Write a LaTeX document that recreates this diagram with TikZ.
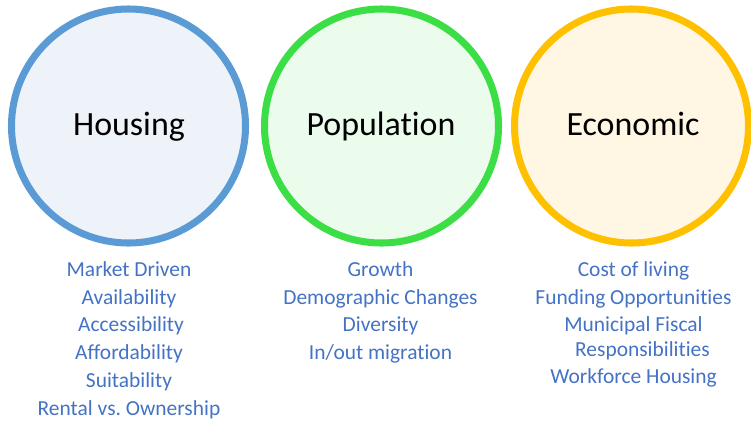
\documentclass[tikz,border=0pt]{standalone}
\usepackage{fontspec}
\setmainfont{Carlito}[Ligatures={NoCommon}]
\frenchspacing
\definecolor{housingline}{HTML}{5B9BD5}
\definecolor{housingfill}{HTML}{EEF3FA}
\definecolor{popline}{HTML}{3CDE46}
\definecolor{popfill}{HTML}{EBFBEC}
\definecolor{econline}{HTML}{FFC000}
\definecolor{econfill}{HTML}{FFF7E4}
\definecolor{itemblue}{HTML}{4472C4}
\tikzset{
  topic/.style={font=\fontsize{19.3}{23}\selectfont, anchor=base, inner sep=0pt},
  item/.style={font=\fontsize{12.2}{14}\selectfont, text=itemblue, anchor=base, inner sep=0pt},
  ring/.style={line width=4pt}
}

\begin{document}
\begin{tikzpicture}
			%%%%% FRAME %%%%%
			\useasboundingbox (0, 0) rectangle (15.02, 8.42);
			
			%%%%% CIRCLES %%%%%
			\draw[ring, draw=housingline, fill=housingfill] (2.57, 5.90) circle (2.34);
			\draw[ring, draw=popline, fill=popfill] (7.63, 5.90) circle (2.34);
			\draw[ring, draw=econline, fill=econfill] (12.63, 5.90) circle (2.34);
			
			\node[topic] (housing) at (2.58, 5.72) {Housing};
			\node[topic] (population) at (7.62, 5.72) {Population};
			\node[topic] (economic) at (12.66, 5.72) {Economic};
			
			%%%%% LISTS %%%%%
			\foreach \x/\y/\txt [count=\i] in {2.58/2.90/Market Driven, 2.58/2.34/Availability, 2.62/1.80/Accessibility, 2.58/1.24/Affordability, 2.58/0.68/Suitability, 2.58/0.12/Rental vs. Ownership}
				\node[item] (h\i) at (\x, \y) {\txt};
			
			\foreach \x/\y/\txt [count=\i] in {7.61/2.90/Growth, 7.61/2.34/Demographic Changes, 7.61/1.80/Diversity, 7.61/1.24/{In/out migration}}
				\node[item] (p\i) at (\x, \y) {\txt};
			
			\foreach \x/\y/\txt [count=\i] in {12.67/2.90/Cost of living, 12.67/2.34/Funding Opportunities, 12.67/1.80/Municipal Fiscal, 12.85/1.30/Responsibilities, 12.67/0.76/Workforce Housing}
				\node[item] (e\i) at (\x, \y) {\txt};
			
			%%%%% END %%%%%
\end{tikzpicture}
\end{document}
